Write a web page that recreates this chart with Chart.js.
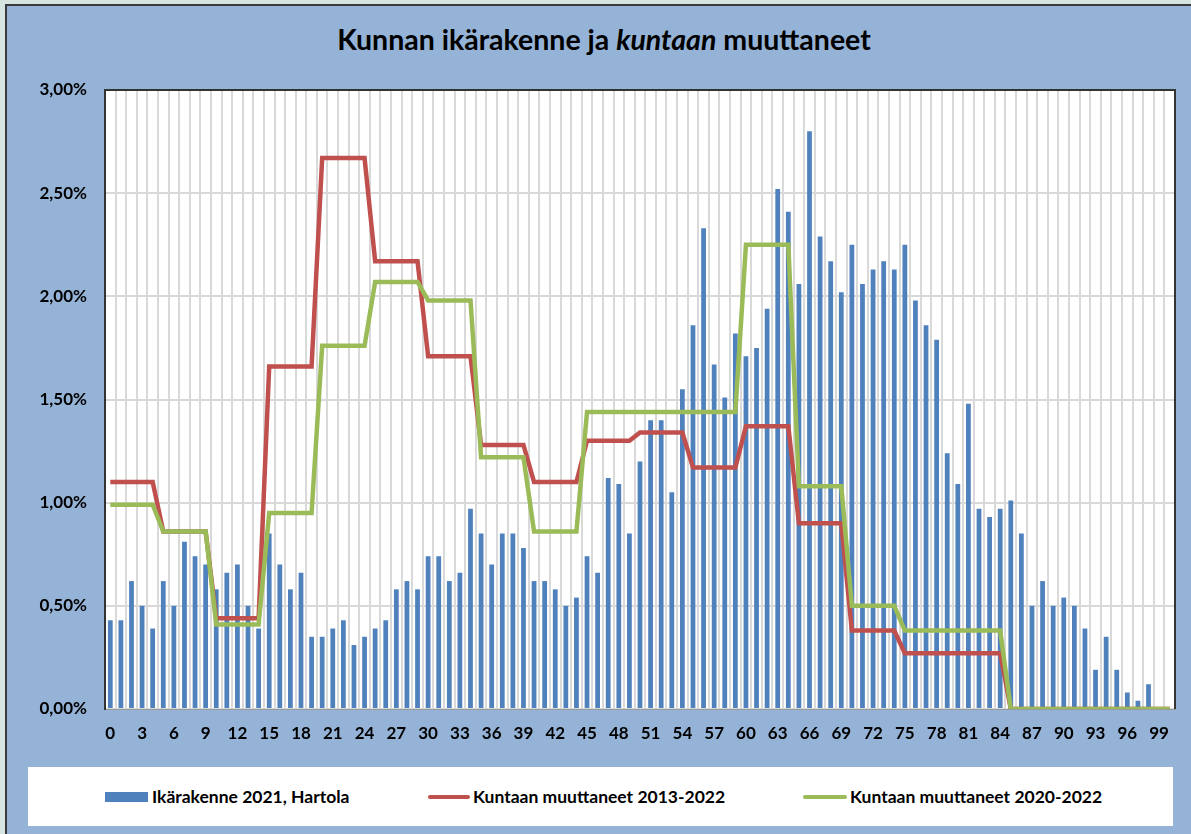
<!DOCTYPE html>
<html lang="fi">
<head>
  <meta charset="UTF-8">
  <title>Kunnan ikärakenne ja kuntaan muuttaneet</title>
  <script src="https://cdn.jsdelivr.net/npm/chart.js"></script>
  <style>
    body {
      margin: 0;
      width: 1191px;
      height: 834px;
      overflow: hidden;
      background: #d6e4e2;
      font-family: 'Lato', sans-serif;
      position: relative;
    }

    .frame {
      position: absolute;
      left: 5px;
      top: 4px;
      width: 1186px;
      height: 830px;
      box-sizing: border-box;
      border-left: 2px solid #3a3a3a;
      border-top: 2px solid #3a3a3a;
      background: #95b3d7;
    }

    .title {
      position: absolute;
      left: 0;
      top: 24px;
      width: 1208px;
      text-align: center;
      font-size: 28.5px;
      font-weight: 700;
      line-height: 30px;
      color: #000;
    }

    #chart {
      position: absolute;
      left: 0;
      top: 0;
    }

    .legend {
      position: absolute;
      left: 28px;
      top: 767px;
      width: 1145px;
      height: 59px;
      background: #fff;
    }

    .legend .mark { position: absolute; }
    .legend .txt {
      position: absolute;
      top: 20px;
      line-height: 20px;
      font-size: 17.5px;
      font-weight: 700;
      color: #000;
      white-space: nowrap;
    }
  </style>
</head>
<body>

<div class="frame"></div>
<div class="title">Kunnan ikärakenne ja <i>kuntaan</i> muuttaneet</div>
<canvas id="chart" width="1191" height="760"></canvas>

<div class="legend">
  <div class="mark" style="left:77px; top:25px; width:43px; height:10px; background:#4f81bd"></div>
  <div class="txt" id="lg0" style="left:124px"></div>
  <div class="mark" style="left:400px; top:28px; width:42px; height:4px; border-radius:2px; background:#c0504d"></div>
  <div class="txt" id="lg1" style="left:445px"></div>
  <div class="mark" style="left:775px; top:28px; width:44px; height:4px; border-radius:2px; background:#9bbb59"></div>
  <div class="txt" id="lg2" style="left:822px"></div>
</div>

<script>
  // ikä 0..100
  const ages = ['0','1','2','3','4','5','6','7','8','9',
    '10','11','12','13','14','15','16','17','18','19',
    '20','21','22','23','24','25','26','27','28','29',
    '30','31','32','33','34','35','36','37','38','39',
    '40','41','42','43','44','45','46','47','48','49',
    '50','51','52','53','54','55','56','57','58','59',
    '60','61','62','63','64','65','66','67','68','69',
    '70','71','72','73','74','75','76','77','78','79',
    '80','81','82','83','84','85','86','87','88','89',
    '90','91','92','93','94','95','96','97','98','99','100'];

  const seriesNames = ['Ikärakenne 2021, Hartola', 'Kuntaan muuttaneet 2013-2022', 'Kuntaan muuttaneet 2020-2022'];

  // osuudet prosentteina
  const ikarakenne = [0.43,0.43,0.62,0.50,0.39,0.62,0.50,0.81,0.74,0.70,
    0.58,0.66,0.70,0.50,0.39,0.85,0.70,0.58,0.66,0.35,
    0.35,0.39,0.43,0.31,0.35,0.39,0.43,0.58,0.62,0.58,
    0.74,0.74,0.62,0.66,0.97,0.85,0.70,0.85,0.85,0.78,
    0.62,0.62,0.58,0.50,0.54,0.74,0.66,1.12,1.09,0.85,
    1.20,1.40,1.40,1.05,1.55,1.86,2.33,1.67,1.51,1.82,
    1.71,1.75,1.94,2.52,2.41,2.06,2.80,2.29,2.17,2.02,
    2.25,2.06,2.13,2.17,2.13,2.25,1.98,1.86,1.79,1.24,
    1.09,1.48,0.97,0.93,0.97,1.01,0.85,0.50,0.62,0.50,
    0.54,0.50,0.39,0.19,0.35,0.19,0.08,0.04,0.12,0,0];

  const muutt2013 = [1.10,1.10,1.10,1.10,1.10,0.86,0.86,0.86,0.86,0.86,
    0.44,0.44,0.44,0.44,0.44,1.66,1.66,1.66,1.66,1.66,
    2.67,2.67,2.67,2.67,2.67,2.17,2.17,2.17,2.17,2.17,
    1.71,1.71,1.71,1.71,1.71,1.28,1.28,1.28,1.28,1.28,
    1.10,1.10,1.10,1.10,1.10,1.30,1.30,1.30,1.30,1.30,
    1.34,1.34,1.34,1.34,1.34,1.17,1.17,1.17,1.17,1.17,
    1.37,1.37,1.37,1.37,1.37,0.90,0.90,0.90,0.90,0.90,
    0.38,0.38,0.38,0.38,0.38,0.27,0.27,0.27,0.27,0.27,
    0.27,0.27,0.27,0.27,0.27,0,0,0,0,0,
    0,0,0,0,0,0,0,0,0,0,0];

  const muutt2020 = [0.99,0.99,0.99,0.99,0.99,0.86,0.86,0.86,0.86,0.86,
    0.41,0.41,0.41,0.41,0.41,0.95,0.95,0.95,0.95,0.95,
    1.76,1.76,1.76,1.76,1.76,2.07,2.07,2.07,2.07,2.07,
    1.98,1.98,1.98,1.98,1.98,1.22,1.22,1.22,1.22,1.22,
    0.86,0.86,0.86,0.86,0.86,1.44,1.44,1.44,1.44,1.44,
    1.44,1.44,1.44,1.44,1.44,1.44,1.44,1.44,1.44,1.44,
    2.25,2.25,2.25,2.25,2.25,1.08,1.08,1.08,1.08,1.08,
    0.50,0.50,0.50,0.50,0.50,0.38,0.38,0.38,0.38,0.38,
    0.38,0.38,0.38,0.38,0.38,0,0,0,0,0,
    0,0,0,0,0,0,0,0,0,0,0];

  seriesNames.forEach((n, i) => document.getElementById('lg' + i).textContent = n);

  const font = { family: 'Lato', size: 17, weight: 'bold' };

  // valkoinen kuva-ala ja tumma reunus
  const plotFrame = {
    id: 'plotFrame',
    beforeDraw(c) {
      const a = c.chartArea, ctx = c.ctx;
      ctx.save();
      ctx.fillStyle = '#fff';
      ctx.fillRect(a.left, a.top, a.right - a.left, a.bottom - a.top);
      ctx.restore();
    },
    afterDraw(c) {
      const a = c.chartArea, ctx = c.ctx;
      ctx.save();
      ctx.strokeStyle = '#333';
      ctx.lineWidth = 2;
      ctx.beginPath();
      ctx.moveTo(a.left, a.top);
      ctx.lineTo(a.right, a.top);
      ctx.lineTo(a.right, a.bottom);
      ctx.stroke();
      ctx.restore();
    }
  };

  new Chart(document.getElementById('chart'), {
    type: 'bar',
    data: {
      labels: ages,
      datasets: [
        { type: 'bar', label: seriesNames[0], data: ikarakenne, backgroundColor: '#4f81bd',
          barPercentage: 0.45, categoryPercentage: 1, order: 3 },
        { type: 'line', label: seriesNames[1], data: muutt2013, borderColor: '#c0504d',
          borderWidth: 4.5, pointRadius: 0, tension: 0, fill: false, order: 2 },
        { type: 'line', label: seriesNames[2], data: muutt2020, borderColor: '#9bbb59',
          borderWidth: 4.5, pointRadius: 0, tension: 0, fill: false, order: 1 }
      ]
    },
    options: {
      responsive: false,
      animation: false,
      devicePixelRatio: 1,
      layout: { padding: { left: 0, top: 90, right: 16, bottom: 0 } },
      plugins: {
        legend: { display: false },
        title: { display: false },
        tooltip: { enabled: false }
      },
      scales: {
        x: {
          grid: { offset: true, color: '#d9d9d9', lineWidth: 2, drawTicks: false },
          border: { color: '#999', width: 1 },
          ticks: {
            autoSkip: false, maxRotation: 0, padding: 14, color: '#000', font,
            callback: (v, i) => (i % 3 === 0 && i <= 99) ? ages[i] : ''
          },
          afterFit: s => { s.height = 51; }
        },
        y: {
          min: 0, max: 3,
          grid: { color: '#d9d9d9', lineWidth: 2, drawTicks: false },
          border: { color: '#333', width: 2 },
          ticks: {
            stepSize: 0.5, padding: 18, color: '#000', font,
            callback: v => v.toFixed(2).replace('.', ',') + '%'
          },
          afterFit: s => { s.width = 105; }
        }
      }
    },
    plugins: [plotFrame]
  });
</script>
</body>
</html>
